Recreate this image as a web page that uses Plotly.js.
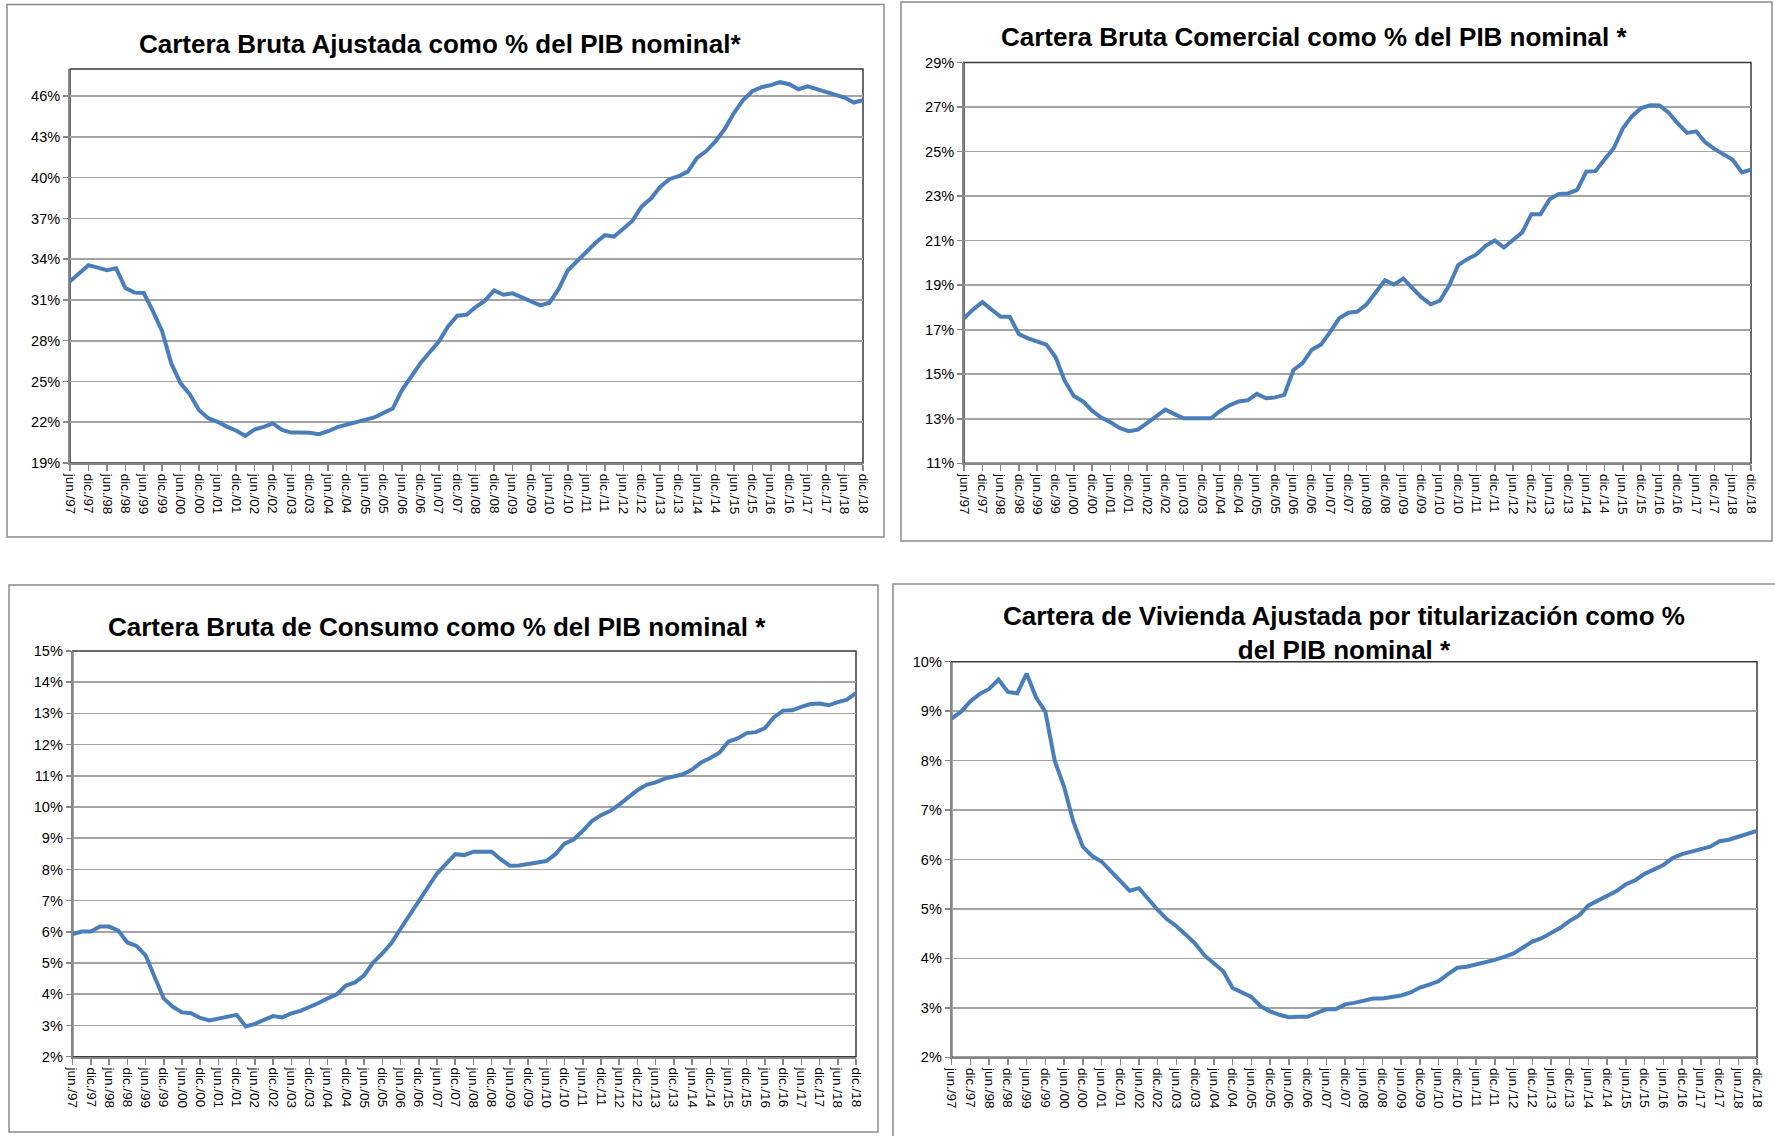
<!DOCTYPE html>
<html>
<head>
<meta charset="utf-8">
<script src="https://cdn.plot.ly/plotly-3.0.1.min.js"></script>
<style>
  html, body { margin: 0; padding: 0; background: #ffffff; }
  #chart { width: 1775px; height: 1136px; }
</style>
</head>
<body>
<div id="chart"></div>
<script>
// Quarterly categories (jun./97 ... dic./18)
const quarters = [
  "jun./97","sep./97","dic./97",
  "mar./98","jun./98","sep./98","dic./98",
  "mar./99","jun./99","sep./99","dic./99",
  "mar./00","jun./00","sep./00","dic./00",
  "mar./01","jun./01","sep./01","dic./01",
  "mar./02","jun./02","sep./02","dic./02",
  "mar./03","jun./03","sep./03","dic./03",
  "mar./04","jun./04","sep./04","dic./04",
  "mar./05","jun./05","sep./05","dic./05",
  "mar./06","jun./06","sep./06","dic./06",
  "mar./07","jun./07","sep./07","dic./07",
  "mar./08","jun./08","sep./08","dic./08",
  "mar./09","jun./09","sep./09","dic./09",
  "mar./10","jun./10","sep./10","dic./10",
  "mar./11","jun./11","sep./11","dic./11",
  "mar./12","jun./12","sep./12","dic./12",
  "mar./13","jun./13","sep./13","dic./13",
  "mar./14","jun./14","sep./14","dic./14",
  "mar./15","jun./15","sep./15","dic./15",
  "mar./16","jun./16","sep./16","dic./16",
  "mar./17","jun./17","sep./17","dic./17",
  "mar./18","jun./18","sep./18","dic./18"
];

// Axis tick labels (semiannual)
const tickLabels = [
  "jun./97","dic./97","jun./98","dic./98","jun./99","dic./99","jun./00","dic./00",
  "jun./01","dic./01","jun./02","dic./02","jun./03","dic./03","jun./04","dic./04",
  "jun./05","dic./05","jun./06","dic./06","jun./07","dic./07","jun./08","dic./08",
  "jun./09","dic./09","jun./10","dic./10","jun./11","dic./11","jun./12","dic./12",
  "jun./13","dic./13","jun./14","dic./14","jun./15","dic./15","jun./16","dic./16",
  "jun./17","dic./17","jun./18","dic./18"
];

// Cartera Bruta Ajustada (% del PIB)
const carteraAjustada = [
  32.37, 32.92, 33.56, 33.38, 33.19, 33.33, 31.88, 31.54, 31.51, 30.16,
  28.68, 26.29, 24.86, 24.05, 22.89, 22.30, 22.03, 21.68, 21.39, 21.00,
  21.46, 21.66, 21.91, 21.44, 21.24, 21.24, 21.22, 21.12, 21.34, 21.64,
  21.81, 21.96, 22.15, 22.35, 22.69, 23.01, 24.37, 25.33, 26.34, 27.15,
  27.94, 29.05, 29.84, 29.91, 30.48, 30.95, 31.70, 31.38, 31.49, 31.19,
  30.92, 30.60, 30.80, 31.81, 33.19, 33.88, 34.49, 35.21, 35.77, 35.67,
  36.24, 36.83, 37.89, 38.46, 39.32, 39.89, 40.11, 40.45, 41.46, 41.96,
  42.67, 43.58, 44.76, 45.72, 46.36, 46.66, 46.81, 47.03, 46.88, 46.51,
  46.73, 46.51, 46.27, 46.05, 45.90, 45.53, 45.70
];

// Cartera Bruta Comercial (% del PIB)
const carteraComercial = [
  17.51, 17.91, 18.24, 17.90, 17.58, 17.58, 16.80, 16.61, 16.49, 16.33,
  15.77, 14.71, 14.02, 13.78, 13.36, 13.05, 12.84, 12.59, 12.44, 12.51,
  12.80, 13.09, 13.41, 13.21, 13.02, 13.02, 13.02, 13.02, 13.35, 13.60,
  13.78, 13.83, 14.12, 13.92, 13.96, 14.07, 15.19, 15.50, 16.10, 16.33,
  16.89, 17.51, 17.76, 17.81, 18.14, 18.67, 19.22, 19.03, 19.30, 18.87,
  18.45, 18.14, 18.30, 18.97, 19.90, 20.17, 20.38, 20.77, 21.01, 20.69,
  21.05, 21.37, 22.19, 22.19, 22.86, 23.10, 23.12, 23.28, 24.10, 24.12,
  24.64, 25.15, 26.05, 26.59, 26.95, 27.08, 27.07, 26.75, 26.26, 25.84,
  25.91, 25.42, 25.12, 24.88, 24.63, 24.06, 24.19
];

// Cartera Bruta de Consumo (% del PIB)
const carteraConsumo = [
  5.93, 6.01, 6.01, 6.17, 6.17, 6.04, 5.66, 5.55, 5.25, 4.55,
  3.86, 3.60, 3.42, 3.39, 3.24, 3.16, 3.21, 3.27, 3.34, 2.97,
  3.05, 3.18, 3.30, 3.26, 3.39, 3.47, 3.58, 3.72, 3.87, 4.00,
  4.28, 4.38, 4.61, 5.02, 5.31, 5.64, 6.10, 6.55, 7.02, 7.43,
  7.87, 8.18, 8.49, 8.46, 8.57, 8.57, 8.57, 8.32, 8.12, 8.13,
  8.19, 8.22, 8.27, 8.49, 8.83, 8.96, 9.24, 9.55, 9.74, 9.87,
  10.08, 10.32, 10.54, 10.71, 10.79, 10.91, 10.99, 11.05, 11.20, 11.43,
  11.57, 11.74, 12.10, 12.20, 12.37, 12.40, 12.53, 12.88, 13.09, 13.10,
  13.21, 13.30, 13.32, 13.26, 13.36, 13.44, 13.65
];

// Cartera de Vivienda Ajustada por titularización (% del PIB)
const carteraVivienda = [
  8.85, 8.99, 9.20, 9.35, 9.45, 9.64, 9.39, 9.36, 9.76, 9.28,
  8.99, 8.00, 7.47, 6.76, 6.26, 6.07, 5.96, 5.77, 5.57, 5.37,
  5.42, 5.19, 4.98, 4.79, 4.65, 4.48, 4.30, 4.06, 3.89, 3.74,
  3.40, 3.32, 3.22, 3.03, 2.93, 2.86, 2.81, 2.82, 2.82, 2.90,
  2.97, 2.97, 3.07, 3.10, 3.15, 3.19, 3.19, 3.21, 3.25, 3.31,
  3.41, 3.47, 3.54, 3.68, 3.81, 3.83, 3.87, 3.93, 3.97, 4.03,
  4.10, 4.22, 4.34, 4.41, 4.51, 4.62, 4.76, 4.87, 5.07, 5.16,
  5.25, 5.36, 5.50, 5.58, 5.71, 5.79, 5.89, 6.03, 6.11, 6.16,
  6.20, 6.26, 6.37, 6.40, 6.46, 6.52, 6.58
];

// Chart titles
const titles = [
  "Cartera Bruta Ajustada como % del PIB nominal*",
  "Cartera Bruta Comercial como % del PIB nominal *",
  "Cartera Bruta de Consumo como % del PIB nominal *",
  "Cartera de Vivienda Ajustada por titularización como %<br>del PIB nominal *"
];

// ---------- layout geometry (pixels) ----------
const W = 1775, H = 1136;
const fx = v => v / W;
const fy = v => 1 - v / H;

const plots = [
  {l: 70,    r: 863,  t: 69,    b: 463,    range: [19, 48], dtick: 3, series: carteraAjustada},
  {l: 964,   r: 1751, t: 62.5,  b: 463.3,  range: [11, 29], dtick: 2, series: carteraComercial},
  {l: 72.7,  r: 856,  t: 651,   b: 1056.7, range: [2, 15],  dtick: 1, series: carteraConsumo},
  {l: 951.7, r: 1757, t: 661.7, b: 1057.3, range: [2, 10],  dtick: 1, series: carteraVivienda}
];
const panels = [
  {x0: 7,   x1: 884,  y0: 4.5, y1: 537},
  {x0: 901, x1: 1772, y0: 2,   y1: 541},
  {x0: 9,   x1: 878,  y0: 585, y1: 1132},
  {x0: 893, x1: 1778, y0: 584, y1: 1140}
];
const titlePos = [
  {x: 440,  y: 44},
  {x: 1314, y: 37},
  {x: 437,  y: 627},
  {x: 1344, y: 633}
];

const FONT = "Liberation Sans, Arial, Helvetica, sans-serif";
const LINE_BLUE = "#4a7ebb";
const AXIS_GRAY = "#868686";

const data = [];
const layout = {
  width: W, height: H,
  margin: {l: 0, r: 0, t: 0, b: 0},
  paper_bgcolor: "#ffffff",
  plot_bgcolor: "#ffffff",
  showlegend: false,
  font: {family: FONT, color: "#000000"},
  shapes: [],
  annotations: []
};

plots.forEach((p, i) => {
  const n = i === 0 ? "" : String(i + 1);
  data.push({
    type: "scatter",
    mode: "lines",
    x: quarters,
    y: p.series,
    xaxis: "x" + n,
    yaxis: "y" + n,
    line: {color: LINE_BLUE, width: 4},
    hoverinfo: "x+y"
  });
  layout["xaxis" + n] = {
    domain: [fx(p.l), fx(p.r)],
    anchor: "y" + n,
    type: "category",
    categoryorder: "array",
    categoryarray: quarters,
    range: [0, quarters.length - 1],
    tickmode: "array",
    tickvals: tickLabels,
    ticktext: tickLabels,
    tickangle: 90,
    tickfont: {family: FONT, size: 13.5, color: "#000000"},
    ticks: "outside",
    ticklen: 6,
    tickwidth: 1.5,
    tickcolor: AXIS_GRAY,
    showgrid: false,
    zeroline: false,
    showline: true,
    linecolor: AXIS_GRAY,
    linewidth: 2,
    fixedrange: true
  };
  layout["yaxis" + n] = {
    domain: [fy(p.b), fy(p.t)],
    anchor: "x" + n,
    range: p.range,
    tick0: p.range[0],
    dtick: p.dtick,
    ticksuffix: "%",
    tickfont: {family: FONT, size: 14.5, color: "#000000"},
    ticks: "outside",
    ticklen: 5,
    tickwidth: 1.5,
    tickcolor: AXIS_GRAY,
    showgrid: true,
    gridcolor: "#a3a3a3",
    gridwidth: 1.6,
    zeroline: false,
    showline: true,
    linecolor: AXIS_GRAY,
    linewidth: 2,
    fixedrange: true
  };
  // plot-area frame (dark top/right)
  layout.shapes.push({
    type: "rect", xref: "paper", yref: "paper", layer: "below",
    x0: fx(p.l), x1: fx(p.r), y0: fy(p.b), y1: fy(p.t),
    line: {color: "#3a3a3a", width: 1.5}
  });
  // outer panel border
  const b = panels[i];
  layout.shapes.push({
    type: "rect", xref: "paper", yref: "paper", layer: "below",
    x0: fx(b.x0), x1: fx(b.x1), y0: fy(b.y1), y1: fy(b.y0),
    line: {color: "#8c8c8c", width: 1.5}
  });
  layout.annotations.push({
    xref: "paper", yref: "paper",
    x: fx(titlePos[i].x), y: fy(titlePos[i].y),
    xanchor: "center", yanchor: "middle",
    text: "<b>" + titles[i] + "</b>",
    showarrow: false,
    align: "center",
    font: {family: FONT, size: 26, color: "#000000"}
  });
});

Plotly.newPlot("chart", data, layout, {displayModeBar: false, staticPlot: true});
</script>
</body>
</html>
